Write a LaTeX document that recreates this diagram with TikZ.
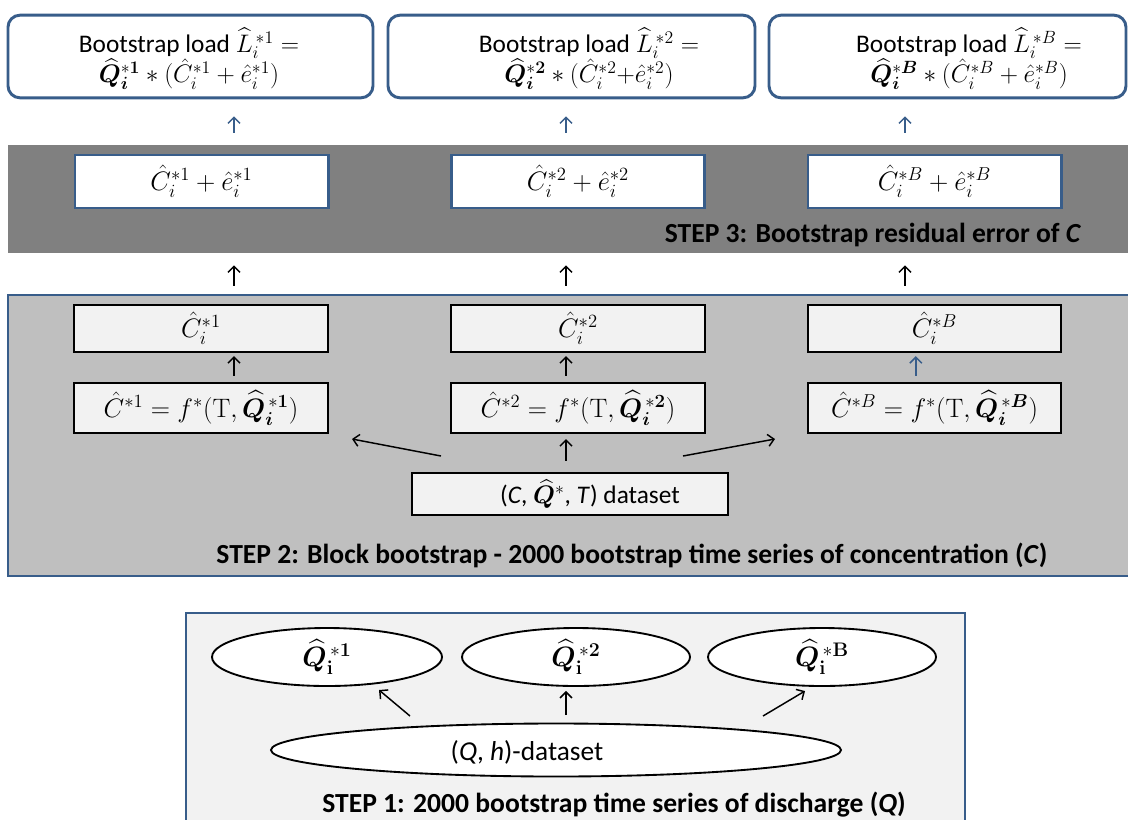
\documentclass[tikz,border=0pt]{standalone}
\usepackage{fix-cm}
\usepackage[no-math]{fontspec}
\setmainfont{Carlito}
\usepackage{amsmath,bm}
\usetikzlibrary{shapes.geometric,arrows.meta}
\definecolor{boxblue}{RGB}{56,93,138}
\definecolor{bandgray}{RGB}{128,128,128}
\definecolor{midgray}{RGB}{191,191,191}
\definecolor{lightgray}{RGB}{242,242,242}
\begin{document}
\begin{tikzpicture}[x=0.75pt,y=-0.75pt,font=\fontsize{19}{23}\selectfont,
    topbox/.style={draw=boxblue,line width=2.2pt,rounded corners=9pt,fill=white,minimum height=62pt,inner sep=0pt},
    bandbox/.style={draw=boxblue,line width=2pt,fill=white,minimum width=190pt,minimum height=39.75pt,inner sep=0pt,font=\fontsize{20}{24}\selectfont},
    rowbox/.style={draw=black,line width=1.7pt,fill=lightgray,minimum width=190pt,inner sep=0pt,font=\fontsize{20}{24}\selectfont},
    ell/.style={ellipse,draw=black,line width=1.4pt,fill=white,inner sep=0pt,font=\fontsize{21}{25}\selectfont},
    steptext/.style={font=\fontsize{20.7}{24}\selectfont\bfseries},
    arr/.style={draw=black,line width=1.1pt,-{Straight Barb[length=4.5pt,width=9pt]}},
    barr/.style={arr,draw=boxblue}]
\useasboundingbox (0,0) rectangle (1128,819);

\coordinate (k1) at (234,0);
\coordinate (k2) at (566,0);
\coordinate (kB) at (905,0);

\node[topbox,minimum width=273.75pt] (L1) at (190.5,56.5) {};
\node[topbox,minimum width=275.25pt] (L2) at (571.5,56.5) {};
\node[topbox,minimum width=267.75pt] (LB) at (947.5,56.5) {};
\node[align=center] (L1t) at (189,59) {Bootstrap load ${\widehat{L}_i}^{\,*1}=$\\$\widehat{\bm Q}_{\bm i}^{*\bm 1}*(\hat C_i^{*1}+\hat e_i^{*1})$};
\node[align=center] (L2t) at (589,59) {Bootstrap load ${\widehat{L}_i}^{\,*2}=$\\$\widehat{\bm Q}_{\bm i}^{*\bm 2}*(\hat C_i^{*2}{+}\hat e_i^{*2})$};
\node[align=center] (LBt) at (969,59) {Bootstrap load ${\widehat{L}_i}^{\,*B}=$\\$\widehat{\bm Q}_{\bm i}^{*\bm B}*(\hat C_i^{*B}+\hat e_i^{*B})$};

\node[fill=bandgray,minimum width=849pt,minimum height=81pt,inner sep=0pt] (band) at (574,199) {};
\node[bandbox] (ce1) at (201.5,181.5) {$\hat C_i^{*1}+\hat e_i^{*1}$};
\node[bandbox] (ce2) at (578,181.5) {$\hat C_i^{*2}+\hat e_i^{*2}$};
\node[bandbox] (ceB) at (934.5,181.5) {$\hat C_i^{*B}+\hat e_i^{*B}$};
\node[steptext] (s3) at (873,235) {STEP 3: Bootstrap residual error of \textit{C}};

\node[draw=boxblue,fill=midgray,line width=1.6pt,minimum width=849pt,minimum height=210.75pt,inner sep=0pt] (stepII) at (574,435.5) {};
\node[rowbox,minimum height=35.25pt] (c1) at (201,328.5) {$\hat C_i^{*1}$};
\node[rowbox,minimum height=35.25pt] (c2) at (578,328.5) {$\hat C_i^{*2}$};
\node[rowbox,minimum height=35.25pt] (cB) at (934.5,328.5) {$\hat C_i^{*B}$};
\node[rowbox,minimum height=37.5pt] (f1) at (201,408) {$\hat C^{*1}=f^*(\mathrm{T},{\widehat{\bm Q}_{\bm i}}^{\,*\bm 1})$};
\node[rowbox,minimum height=37.5pt] (f2) at (578,408) {$\hat C^{*2}=f^*(\mathrm{T},{\widehat{\bm Q}_{\bm i}}^{\,*\bm 2})$};
\node[rowbox,minimum height=37.5pt] (fB) at (934.5,408) {$\hat C^{*B}=f^*(\mathrm{T},{\widehat{\bm Q}_{\bm i}}^{\,*\bm B})$};
\node[rowbox,minimum width=237pt,minimum height=31.5pt,font=\fontsize{19}{23}\selectfont] (ds) at (570,494) {\hspace*{30pt}(\textit{C}, $\widehat{\bm Q}^{*}$, \textit{T}) dataset};
\node[steptext] (s2) at (632,555) {STEP 2: Block bootstrap - 2000 bootstrap time series of concentration (\textit{C})};

\node[draw=boxblue,fill=lightgray,line width=1.6pt,minimum width=584.25pt,minimum height=162.75pt,inner sep=0pt] (stepI) at (575.5,721.5) {};
\node[ell,minimum width=172.5pt,minimum height=43.5pt] (q1) at (327,657) {${\widehat{\bm Q}_{\mathbf i}}^{\,*\mathbf 1}$};
\node[ell,minimum width=171pt,minimum height=43.5pt] (q2) at (576,657) {${\widehat{\bm Q}_{\mathbf i}}^{\,*\mathbf 2}$};
\node[ell,minimum width=171pt,minimum height=43.5pt] (qB) at (822,657) {${\widehat{\bm Q}_{\mathbf i}}^{\,*\mathbf B}$};
\node[ell,minimum width=427.5pt,minimum height=39.75pt] (qh) at (556,750) {};
\node[font=\fontsize{20.5}{24}\selectfont] (qht) at (527,752) {(\textit{Q}, \textit{h})-dataset};
\node[steptext] (s1) at (614,805) {STEP 1: 2000 bootstrap time series of discharge (\textit{Q})};

\draw[barr,shorten <=9pt,shorten >=12.75pt] (k1 |- band.north) -- (k1 |- L1.south);
\draw[barr,shorten <=9pt,shorten >=12.75pt] (k2 |- band.north) -- (k2 |- L2.south);
\draw[barr,shorten <=9pt,shorten >=12.75pt] (kB |- band.north) -- (kB |- LB.south);

\draw[arr,shorten <=6pt,shorten >=9pt] (k1 |- stepII.north) -- (k1 |- band.south);
\draw[arr,shorten <=6pt,shorten >=9pt] (k2 |- stepII.north) -- (k2 |- band.south);
\draw[arr,shorten <=6pt,shorten >=9pt] (kB |- stepII.north) -- (kB |- band.south);

\draw[arr,shorten <=4.5pt,shorten >=2.25pt] (k1 |- f1.north) -- (k1 |- c1.south);
\draw[arr,shorten <=4.5pt,shorten >=2.25pt] (k2 |- f2.north) -- (k2 |- c2.south);
\draw[barr,shorten <=4.5pt,shorten >=2.25pt] ([xshift=-14pt]fB.north) -- ([xshift=-14pt]cB.south);

\coordinate (dl) at (441,456);
\coordinate (dle) at (352,439);
\coordinate (dr) at (683,456);
\coordinate (dre) at (775,439);
\draw[arr] (dl) -- (dle);
\draw[arr,shorten <=8.25pt,shorten >=3.75pt] (k2 |- ds.north) -- (k2 |- f2.south);
\draw[arr] (dr) -- (dre);

\coordinate (ql) at (410,716);
\coordinate (qle) at (379,690);
\coordinate (qr) at (763,716);
\coordinate (qre) at (805,691);
\draw[arr] (ql) -- (qle);
\draw[arr,shorten <=5.5pt,shorten >=3pt] (k2 |- qh.north) -- (k2 |- q2.south);
\draw[arr] (qr) -- (qre);
\end{tikzpicture}
\end{document}
